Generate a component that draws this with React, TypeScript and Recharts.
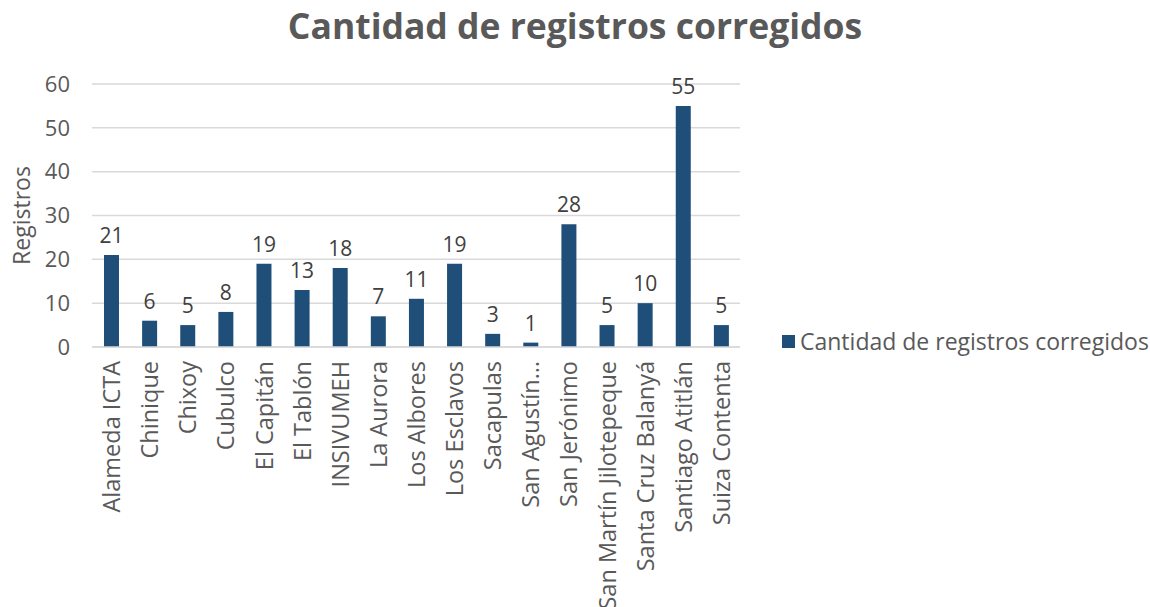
import { BarChart, Bar, XAxis, YAxis, CartesianGrid, LabelList, Label } from "recharts";

const categories = [
  "Alameda ICTA", "Chinique", "Chixoy", "Cubulco", "El Capitán", "El Tablón",
  "INSIVUMEH", "La Aurora", "Los Albores", "Los Esclavos", "Sacapulas",
  "San Agustín…", "San Jerónimo", "San Martín Jilotepeque", "Santa Cruz Balanyá",
  "Santiago Atitlán", "Suiza Contenta",
];
const registros = [21, 6, 5, 8, 19, 13, 18, 7, 11, 19, 3, 1, 28, 5, 10, 55, 5];
const yTicks = [0, 10, 20, 30, 40, 50, 60];

const data = categories.map((name, i) => ({ name, value: registros[i] }));

const FONT = "'Open Sans', 'Noto Sans', sans-serif";
const TEXT = "#595959";
const BAR = "#1F4E79";

function RotatedTick(props: any) {
  const { x, y, payload } = props;
  return (
    <text
      x={x}
      y={y}
      transform={`rotate(-90, ${x}, ${y})`}
      textAnchor="end"
      dominantBaseline="central"
      fontSize={23.5}
      fill={TEXT}
      fontFamily={FONT}
    >
      {payload.value}
    </text>
  );
}

export default function App() {
  return (
    <div style={{ position: "absolute", left: 0, top: 0, width: 1150, height: 607, background: "#fff", fontFamily: FONT, overflow: "hidden" }}>
      <div style={{ position: "absolute", left: 0, top: 1, width: 1150, textAlign: "center", fontSize: 35.5, fontWeight: 700, color: TEXT }}>
        Cantidad de registros corregidos
      </div>

      <BarChart width={1150} height={607} data={data} margin={{ top: 84, right: 410, bottom: 0, left: 0 }} barSize={15}>
        <CartesianGrid vertical={false} stroke="#d9d9d9" strokeWidth={1.5} />
        <XAxis
          dataKey="name"
          interval={0}
          height={260}
          tickLine={false}
          axisLine={{ stroke: "#d9d9d9", strokeWidth: 1.5 }}
          tick={<RotatedTick />}
          tickSize={0}
          tickMargin={14}
        />
        <YAxis
          width={92}
          domain={[0, 60]}
          ticks={yTicks}
          axisLine={false}
          tickLine={false}
          tickSize={0}
          tickMargin={22}
          tick={{ fontSize: 22, fill: TEXT, fontFamily: FONT }}
        >
          <Label
            value="Registros"
            angle={-90}
            position="insideLeft"
            offset={22}
            style={{ fontSize: 23, fill: TEXT, fontFamily: FONT, textAnchor: "middle" }}
          />
        </YAxis>
        <Bar dataKey="value" fill={BAR} isAnimationActive={false}>
          <LabelList dataKey="value" position="top" offset={12} style={{ fontSize: 21, fill: "#404040", fontFamily: FONT }} />
        </Bar>
      </BarChart>

      <div style={{ position: "absolute", left: 782, top: 325, display: "flex", alignItems: "center", gap: 5, fontSize: 23, color: TEXT, whiteSpace: "nowrap" }}>
        <span style={{ width: 13, height: 13, background: BAR, display: "inline-block" }} />
        Cantidad de registros corregidos
      </div>
    </div>
  );
}
